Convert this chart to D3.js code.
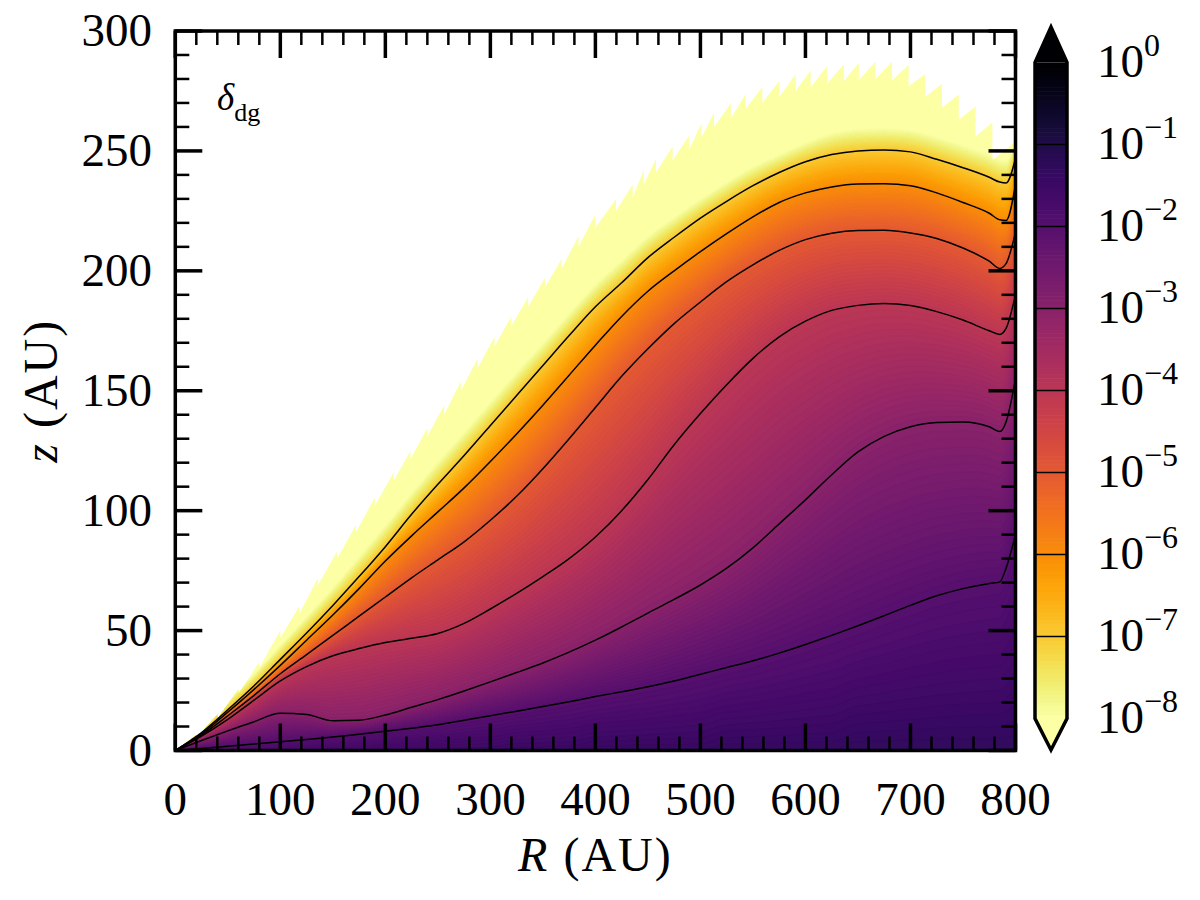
<!DOCTYPE html>
<html><head><meta charset="utf-8">
<script src="https://cdn.jsdelivr.net/npm/d3@7"></script>
<style>body{margin:0;background:#fff}</style>
</head><body>
<svg id="chart" width="1200" height="900"></svg>
<script>
// ---------------- data ----------------
const rGrid = [0,25,50,75,100,125,150,175,200,225,250,275,300,325,350,375,400,425,450,475,500,525,550,575,600,625,650,675,700,725,750,775,785,791,800];
// height z (AU) of the delta_dg = 10^k contour at each R of rGrid
const zLevelM2 = [0,0.8,1.8,2.7,3.6,4.6,5.6,6.8,8.0,9.3,10.7,12.6,14.5,16.4,18.3,20.3,22.5,24.5,26.6,29,31.8,34.6,37.4,40.6,44.2,48,52,56.2,60.5,64.5,67.5,69.6,70.3,76,90];
const zLevelM3 = [0,4.2,8.2,12,15.5,15,12.4,12.6,14.8,18,21.2,24.8,28.6,32.5,36.5,41,46,51.5,57.3,63,69,76,84.5,94.5,104.5,115,124.5,131,135,136.8,137,135,133,137,155];
const zLevelM4 = [0,6,13,21,29,35,39.5,42.5,45,46.8,48.8,53,59,65.5,72.5,80,89,100,113,127.5,140.5,152.5,163.5,172.5,179,183.5,185.6,186.4,185.5,183,179.5,175,173.5,176,190];
const zLevelM5 = [0,6.5,14.5,23,32,40,48,56,64,72,79.5,87,96,106,117.5,130,143,156,167.5,178,187,195.5,202.5,208.5,213,215.7,216.8,216.9,215.8,213.5,209.5,204,201,203,216];
const zLevelM6 = [0,7,16,25.5,35.5,46,56.5,67.5,79,89.5,99.5,109.5,120.5,132,144,156.5,169,181,191.5,200,208,215.5,222.5,228.5,232.5,235,236.2,236.3,235.5,232.5,228.5,224,221.3,221,236];
const zLevelM7 = [0,7.5,17,27,38,49,60.5,72.5,85,98.5,111,123,135.5,148,160.5,173,185,195,205.5,214,222,229,235.5,241,245.5,248.5,250,250.4,249.6,246.5,243,239,237,236.6,247];
// height where the colour reaches the 10^-8 floor (pale yellow)
const zLevelM8 = [0,9,21,32,44,56,68,81,94,107.5,120.5,133,145.5,158,170,182.5,194.5,204.5,214.5,222.5,230,237,243.5,248.5,253.5,257.5,259.3,259.6,258.8,256,252.5,248.5,246.5,246,255];
// log10(delta_dg) on the midplane
const midplaneLog = [-1.9,-1.85,-1.8,-1.75,-1.7,-1.65,-1.6,-1.6,-1.55,-1.55,-1.5,-1.5,-1.5,-1.45,-1.45,-1.45,-1.4,-1.4,-1.4,-1.4,-1.4,-1.35,-1.35,-1.35,-1.35,-1.35,-1.3,-1.3,-1.3,-1.3,-1.3,-1.3,-1.3,-1.3,-1.3];
const contourLevels = [-2,-3,-4,-5,-6,-7];
// upper (masked) boundary of the data, saw-toothed: [R, z]
const edgePoints = [[0,0],
 [20,6.5],[20,5],[40,15],[40,13],[60,25.5],[60,23.5],[80,37],[80,34.5],[100,50],[100,47],
 [118,60],[118,57],[136,72],[136,69],[154,83],[154,80],[172,94],[172,91],[190,105.5],[190,102],
 [208,116],[208,112.5],[224,125],[224,121.5],[240,134.5],[240,131],[256,144],[256,140],
 [272,154],[272,150],[288,163.5],[288,159.5],[304,172.5],[304,168.5],[320,181],[320,177],
 [336,189],[336,185],[352,197],[352,193],[368,205],[368,201],[384,214.5],[384,210],
 [400,223.5],[400,218],[419.6,230],[419.6,225],[435.5,236],[435.5,230.5],[446,242],[446,236],
 [457.7,246.7],[457.7,241],[473.5,251.8],[473.5,246],[489.3,256.4],[489.3,250.5],[501,261.5],[501,255.5],
 [513,266],[513,260],[529,269.8],[529,263.5],[543,273.7],[543,267.5],[559,276.7],[559,270],
 [575,279.2],[575,272.5],[590.7,282],[590.7,275],[605,283.6],[605,276.5],[620.7,285.4],[620.7,278],
 [636.6,286.1],[636.6,279],[650.8,286.8],[650.8,279.5],[666.7,287.2],[666.7,280],[682.5,287.2],[682.5,279.5],
 [698.3,285.9],[698.3,277],[714,282],[714,272.5],[730,278],[730,268],[746,273.5],[746,263],
 [762,268.5],[762,256],[778,262],[778,246],[800,254],[800,0]];
const xTicks = [0,100,200,300,400,500,600,700,800];
const yTicks = [0,50,100,150,200,250,300];
const cbarExponents = [0,-1,-2,-3,-4,-5,-6,-7,-8];

// ---------------- scales ----------------
const svg = d3.select('#chart');
const x = d3.scaleLinear().domain([0,800]).range([175.3,1015.5]);
const y = d3.scaleLinear().domain([0,300]).range([750.5,31]);
const cb = d3.scaleLinear().domain([-8,0]).range([718.5,62.5]);
const col = v => d3.interpolateInferno(Math.max(0, Math.min(1, 1 - (v + 8) / 8)));
const FONT = '"Liberation Serif","DejaVu Serif",serif';

// monotone cubic (same scheme as d3.curveMonotoneX) to evaluate a level curve at any R
function makeMonotone(xs, ys){
  const n = xs.length, h = [], s = [], m = new Array(n);
  for (let i = 0; i < n - 1; i++) { h[i] = xs[i+1] - xs[i]; s[i] = (ys[i+1] - ys[i]) / h[i]; }
  for (let i = 1; i < n - 1; i++) {
    const p = (s[i-1] * h[i] + s[i] * h[i-1]) / (h[i-1] + h[i]);
    m[i] = (Math.sign(s[i-1]) + Math.sign(s[i])) * Math.min(Math.abs(s[i-1]), Math.abs(s[i]), 0.5 * Math.abs(p)) || 0;
  }
  m[0] = (3 * s[0] - m[1]) / 2;
  m[n-1] = (3 * s[n-2] - m[n-2]) / 2;
  return R => {
    let i = d3.bisectRight(xs, R) - 1;
    i = Math.max(0, Math.min(n - 2, i));
    const t = (R - xs[i]) / h[i], t2 = t*t, t3 = t2*t;
    return (2*t3 - 3*t2 + 1) * ys[i] + (t3 - 2*t2 + t) * h[i] * m[i] + (-2*t3 + 3*t2) * ys[i+1] + (t3 - t2) * h[i] * m[i+1];
  };
}

// ---------------- field for the filled contours ----------------
const levelArrays = [zLevelM2,zLevelM3,zLevelM4,zLevelM5,zLevelM6,zLevelM7,zLevelM8];
const levelVals = [-2,-3,-4,-5,-6,-7,-8];
const levelFns = levelArrays.map(a => makeMonotone(rGrid, a));
const midFn = makeMonotone(rGrid, midplaneLog);
const cell = 2;
const px0 = x(0), pyTop = y(300);
const nx = Math.ceil((x(800) - x(0)) / cell) + 2;
const ny = Math.ceil((y(0) - y(300)) / cell) + 2;
const values = new Float64Array(nx * ny);
for (let i = 0; i < nx; i++) {
  const R = Math.min(800, Math.max(0, x.invert(px0 + i * cell)));
  const zs = [0], vs = [midFn(R)];
  levelFns.forEach((fn, k) => {
    zs.push(Math.max(fn(R), zs[zs.length-1] + 0.01));
    vs.push(levelVals[k]);
  });
  for (let j = 0; j < ny; j++) {
    const z = y.invert(pyTop + j * cell);
    let v;
    if (z <= 0) v = vs[0];
    else if (z >= zs[zs.length-1]) v = -8.5;
    else {
      let k = 0;
      while (k < zs.length - 2 && z > zs[k+1]) k++;
      const t = (z - zs[k]) / (zs[k+1] - zs[k]);
      v = vs[k] + (vs[k+1] - vs[k]) * t;
    }
    values[j * nx + i] = v;
  }
}

// clip paths
const defs = svg.append('defs');
defs.append('clipPath').attr('id','plotClip').append('rect')
  .attr('x', x(0)).attr('y', y(300)).attr('width', x(800)-x(0)).attr('height', y(0)-y(300));
defs.append('clipPath').attr('id','edgeClip').append('path')
  .attr('d', d3.line().x(d => x(d[0])).y(d => y(d[1])).curve(d3.curveLinearClosed)(edgePoints));

const field = svg.append('g').attr('clip-path','url(#plotClip)')
  .append('g').attr('clip-path','url(#edgeClip)');
field.append('rect').attr('x', x(0)).attr('y', y(300)).attr('width', x(800)-x(0)).attr('height', y(0)-y(300))
  .attr('fill', col(-8));
const proj = d3.geoTransform({point(cx, cy){ this.stream.point(px0 + (cx - 0.5) * cell, pyTop + (cy - 0.5) * cell); }});
const gp = d3.geoPath(proj);
const thresholds = d3.range(-8, -1.0, 0.05);
const contourGen = d3.contours().size([nx, ny]);
thresholds.forEach(th => {
  const geom = contourGen.contour(values, th);
  if (!geom.coordinates.length) return;
  field.append('path').attr('d', gp(geom)).attr('fill', col(th + 0.025)).attr('stroke', col(th + 0.025)).attr('stroke-width', 0.6);
});

// contour lines
const lineGen = d3.line().x(d => x(d[0])).y(d => y(d[1])).curve(d3.curveMonotoneX);
const lines = svg.append('g').attr('clip-path','url(#plotClip)');
[zLevelM2,zLevelM3,zLevelM4,zLevelM5,zLevelM6,zLevelM7].forEach(arr => {
  lines.append('path').attr('d', lineGen(rGrid.map((R, i) => [R, arr[i]])))
    .attr('fill','none').attr('stroke','#000').attr('stroke-width',1.5).attr('stroke-linejoin','round');
});

// ---------------- axes / frame ----------------
const ax = svg.append('g');
const xMinor = d3.range(0, 801, 20).filter(v => v % 100 !== 0);
const yMinor = d3.range(0, 301, 10).filter(v => v % 50 !== 0);
function tick(x1,y1,x2,y2,w){ ax.append('line').attr('x1',x1).attr('y1',y1).attr('x2',x2).attr('y2',y2).attr('stroke','#000').attr('stroke-width',w); }
const MAJ = 27, MIN = 14;
xTicks.forEach(v => { tick(x(v), y(0), x(v), y(0)-MAJ, 3.5); tick(x(v), y(300), x(v), y(300)+MAJ, 3.5); });
xMinor.forEach(v => { tick(x(v), y(0), x(v), y(0)-MIN, 2.5); tick(x(v), y(300), x(v), y(300)+MIN, 2.5); });
yTicks.forEach(v => { tick(x(0), y(v), x(0)+MAJ, y(v), 3.5); tick(x(800), y(v), x(800)-MAJ, y(v), 3.5); });
yMinor.forEach(v => { tick(x(0), y(v), x(0)+MIN, y(v), 2.5); tick(x(800), y(v), x(800)-MIN, y(v), 2.5); });
ax.append('rect').attr('x', x(0)).attr('y', y(300)).attr('width', x(800)-x(0)).attr('height', y(0)-y(300))
  .attr('fill','none').attr('stroke','#000').attr('stroke-width',3.5);

xTicks.forEach(v => ax.append('text').attr('x', x(v)).attr('y', 815).attr('text-anchor','middle')
  .attr('font-family', FONT).attr('font-size', 47).text(v));
yTicks.forEach(v => ax.append('text').attr('x', 152).attr('y', y(v) + 15).attr('text-anchor','end')
  .attr('font-family', FONT).attr('font-size', 47).text(v));

const xt = ax.append('text').attr('x', (x(0)+x(800))/2).attr('y', 871).attr('text-anchor','middle')
  .attr('font-family', FONT).attr('font-size', 48).attr('letter-spacing', 2);
xt.append('tspan').attr('font-style','italic').text('R');
xt.append('tspan').text(' (AU)');
const yt = ax.append('text').attr('transform', `translate(57,${(y(0)+y(300))/2}) rotate(-90)`).attr('text-anchor','middle')
  .attr('font-family', FONT).attr('font-size', 48).attr('letter-spacing', 2);
yt.append('tspan').attr('font-style','italic').text('z');
yt.append('tspan').text(' (AU)');

const ann = ax.append('text').attr('x', 217).attr('y', 110).attr('font-family', FONT).attr('font-size', 37);
ann.append('tspan').attr('font-style','italic').text('δ');
ann.append('tspan').attr('font-size', 26).attr('dy', 11).text('dg');

// ---------------- colorbar ----------------
const cbX = 1035, cbW = 32, cbMid = cbX + cbW/2;
const cbg = svg.append('g');
d3.range(-8, 0, 0.05).forEach(v => {
  cbg.append('rect').attr('x', cbX).attr('width', cbW).attr('y', cb(v + 0.05)).attr('height', cb(v) - cb(v + 0.05) + 0.6)
    .attr('fill', col(v + 0.025));
});
cbg.append('path').attr('d', `M${cbX},${cb(0)} L${cbMid},27 L${cbX+cbW},${cb(0)} Z`).attr('fill', col(0.5));
cbg.append('path').attr('d', `M${cbX},${cb(-8)} L${cbMid},750 L${cbX+cbW},${cb(-8)} Z`).attr('fill', col(-8.5));
d3.range(-7, 0, 1).forEach(v => cbg.append('line').attr('x1', cbX).attr('x2', cbX+cbW).attr('y1', cb(v)).attr('y2', cb(v))
  .attr('stroke','#000').attr('stroke-width',1.5));
cbg.append('path').attr('d', `M${cbX},${cb(0)} L${cbMid},27 L${cbX+cbW},${cb(0)} L${cbX+cbW},${cb(-8)} L${cbMid},750 L${cbX},${cb(-8)} Z`)
  .attr('fill','none').attr('stroke','#000').attr('stroke-width',3.5).attr('stroke-linejoin','miter');
cbarExponents.forEach(k => {
  const t = cbg.append('text').attr('x', 1097).attr('y', cb(k) + 14).attr('font-family', FONT).attr('font-size', 47);
  t.append('tspan').text('10');
  t.append('tspan').attr('font-size', 32).attr('dy', -21).text(k === 0 ? '0' : '\u2212' + (-k));
});
</script>
</body></html>
